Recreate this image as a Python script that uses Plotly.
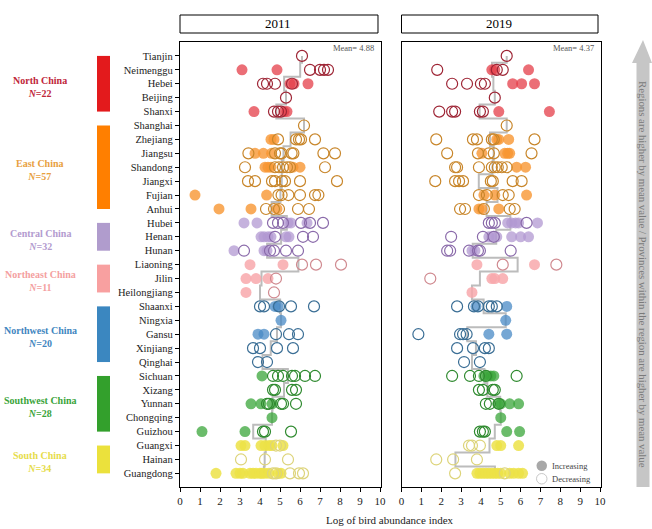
import plotly.graph_objects as go

W, H = 652, 529

provinces = ["Tianjin", "Neimenggu", "Hebei", "Beijing", "Shanxi",
             "Shanghai", "Zhejiang", "Jiangsu", "Shandong", "Jiangxi", "Fujian", "Anhui",
             "Hubei", "Henan", "Hunan",
             "Liaoning", "Jilin", "Heilongjiang",
             "Shaanxi", "Ningxia", "Gansu", "Xinjiang", "Qinghai",
             "Sichuan", "Xizang", "Yunnan", "Chongqing", "Guizhou",
             "Guangxi", "Hainan", "Guangdong"]
region_names = ["North China", "East China", "Central China", "Northeast China",
                "Northwest China", "Southwest China", "South China"]
region_n = [22, 57, 32, 11, 20, 28, 34]
region_sizes = [5, 7, 3, 3, 5, 5, 3]
years = ["2011", "2019"]
overall_means = ["4.88", "4.37"]
x_ticks = list(range(0, 11))

# values of cities per province (filled = increasing, open = decreasing)
inc_2011 = [[], [3.1, 4.85], [5.5, 5.7, 6.4], [], [3.7, 5.2, 5.35],
            [], [4.55, 4.7], [3.75, 4.17, 4.58], [4.25, 4.4, 4.55, 5.65, 6.0], [], [0.75, 4.33], [1.95, 3.55, 4.85],
            [3.2, 3.85, 5.4, 5.55, 6.35], [4.05, 4.2, 4.4, 4.55, 5.3, 5.45], [2.7, 4.2, 4.35],
            [3.5, 5.15], [3.3, 3.8, 4.4], [3.3],
            [4.75, 4.9], [5.05], [3.9, 4.2], [], [],
            [4.1], [], [3.55, 4.05, 4.6], [4.6], [1.1, 3.25],
            [3.05, 3.25, 4.05, 4.25, 4.45, 4.6, 5.15], [],
            [1.8, 2.8, 3.0, 3.15, 3.5, 3.65, 3.8, 4.0, 4.1, 4.25, 4.45, 4.9, 5.05]]
dec_2011 = [[6.1], [6.5, 7.0, 7.2, 7.4], [4.15, 4.35, 4.75, 5.6], [5.3], [4.7, 4.9, 5.05],
            [6.2], [4.9, 5.8, 5.95, 6.05, 6.75], [3.42, 4.75, 5.0, 5.08, 5.58, 5.67, 7.17, 7.75],
            [3.25, 4.75, 4.95, 5.15, 5.35, 5.5, 7.25], [3.4, 3.75, 4.6, 4.75, 5.1, 5.25, 6.0, 7.85],
            [4.92, 5.08, 5.42, 6.0, 6.75, 6.92], [4.3, 4.7, 4.95, 5.9, 6.45],
            [4.65, 4.9, 5.15, 6.05, 6.5, 7.15], [4.75, 6.15, 6.65], [3.2, 4.5, 4.7, 5.3, 5.9],
            [6.1, 6.8, 8.05], [4.8], [4.7],
            [4.0, 4.2, 4.95, 5.55, 6.7], [], [4.8, 5.45, 5.9], [3.65, 4.0, 4.85, 5.65], [3.9, 4.35],
            [4.65, 4.9, 5.15, 5.6, 5.75, 6.25, 6.75], [4.65, 4.75, 5.6, 5.8],
            [4.35, 4.45, 5.05, 5.15, 5.8], [], [4.15, 4.25, 5.55],
            [4.8, 5.0], [3.05, 4.25, 5.4], [4.65, 4.8, 5.5, 5.95, 6.15]]
inc_2019 = [[], [4.55, 4.7, 6.4], [5.6, 6.05, 6.7], [], [4.9, 7.45],
            [], [4.8, 4.9, 5.4], [4.05, 5.2, 5.35, 5.45], [5.8, 6.25], [], [4.15, 4.7, 6.3], [3.9, 4.05, 4.9],
            [5.35, 5.55, 5.75, 5.9, 6.85], [4.4, 4.55, 4.8, 5.55, 6.0, 6.4], [3.55, 3.7],
            [3.8, 6.7], [4.55, 4.7, 5.1], [3.55],
            [3.75, 5.3], [5.25], [4.4, 5.3], [], [],
            [4.15, 4.35, 4.5, 4.65], [], [4.85, 5.0, 5.45, 5.9], [5.0], [5.3, 5.95],
            [4.8, 5.0, 5.9], [],
            [3.8, 3.95, 4.1, 4.25, 4.4, 4.55, 4.7, 4.85, 5.0, 5.45, 5.65, 5.9, 6.1]]
dec_2019 = [[5.3], [1.8, 4.8, 5.1], [2.55, 3.3, 4.0, 4.2], [4.7], [1.9, 2.55, 2.7, 3.95, 4.1],
            [5.3], [1.75, 3.6, 3.8, 4.55, 4.65, 6.7], [2.3, 3.85, 4.4, 4.65, 6.55],
            [2.7, 2.8, 3.9, 4.55, 4.7, 4.85, 5.05, 5.3], [1.7, 2.7, 2.9, 3.1, 4.5, 4.6, 5.6, 6.05],
            [3.9, 4.3, 5.1, 5.4], [2.95, 3.2, 4.15, 5.45, 5.7],
            [4.4, 4.55, 4.7, 6.3], [2.5, 4.1, 4.65], [2.3, 2.45, 3.4, 3.85, 3.95, 5.5],
            [5.1, 7.8], [1.45], [],
            [2.8, 3.65, 3.85, 4.4, 4.55, 4.8], [], [0.85, 2.95, 3.1, 3.28], [2.8, 3.6, 4.2, 4.4], [3.15, 3.95],
            [2.55, 3.45, 3.9, 4.25, 5.8], [3.9, 4.1, 4.6, 4.7], [4.25, 4.45, 4.9], [], [3.95, 4.1, 4.2],
            [3.4, 3.55, 3.95], [1.75, 2.6, 3.8], [2.7, 5.2]]

# styles
bar_colors = ["#e31a1c", "#ff7f00", "#b09ccd", "#f8a0a0", "#3b87c0", "#33a02c", "#ebe13c"]
fill_colors = ["rgba(228,62,72,0.75)", "rgba(247,150,50,0.8)", "rgba(178,152,210,0.75)",
               "rgba(248,168,172,0.85)", "rgba(72,138,198,0.75)", "rgba(58,165,58,0.75)",
               "rgba(236,226,70,0.85)"]
open_colors = ["#9e2535", "#c8862a", "#8a6aaa", "#d08a90", "#3a6e95", "#2f8a2f", "#ddd47a"]
label_colors = ["#c0263a", "#e8a040", "#b39bcf", "#f4a0a0", "#3f86c0", "#3aa43a", "#e6dc4a"]
SERIF = "Liberation Serif, Times New Roman, serif"

region_of = []
for r, s in enumerate(region_sizes):
    region_of += [r] * s

def px_x(x):
    return x / W

def px_y(y):
    return 1 - y / H

fig = go.Figure()
panels = [(inc_2011, dec_2011, "x", "y"), (inc_2019, dec_2019, "x2", "y2")]
for inc, dec, xa, ya in panels:
    means = [sum(a + b) / len(a + b) for a, b in zip(inc, dec)]
    fig.add_trace(go.Scatter(x=means, y=list(range(len(provinces))), mode="lines",
                             line=dict(color="#bcbcbc", width=2, shape="vhv"),
                             xaxis=xa, yaxis=ya, showlegend=False, hoverinfo="skip"))
    for r in range(len(region_names)):
        idx = [i for i in range(len(provinces)) if region_of[i] == r]
        fx, fy, ox, oy = [], [], [], []
        for i in idx:
            fx += inc[i]; fy += [i] * len(inc[i])
            ox += dec[i]; oy += [i] * len(dec[i])
        fig.add_trace(go.Scatter(x=fx, y=fy, mode="markers", xaxis=xa, yaxis=ya, showlegend=False,
                                 marker=dict(size=11, color=fill_colors[r], line=dict(width=0))))
        fig.add_trace(go.Scatter(x=ox, y=oy, mode="markers", xaxis=xa, yaxis=ya, showlegend=False,
                                 marker=dict(size=11, color="rgba(255,255,255,0)",
                                             line=dict(width=1.2, color=open_colors[r]))))

n = len(provinces)
yrange = [n - 0.02, -1]
common_x = dict(range=[0, 10.05], tickvals=x_ticks, ticktext=[str(t) for t in x_ticks],
                showgrid=False, zeroline=False, showline=True, linecolor="black", linewidth=1.3,
                mirror=True, ticks="outside", ticklen=4, tickcolor="black",
                tickfont=dict(family=SERIF, size=11, color="#222"))
fig.update_layout(
    width=W, height=H, margin=dict(l=0, r=0, t=0, b=0),
    paper_bgcolor="white", plot_bgcolor="white", template="none", showlegend=False,
    xaxis=dict(domain=[px_x(180), px_x(381)], anchor="y", **common_x),
    xaxis2=dict(domain=[px_x(401.5), px_x(601)], anchor="y2", **common_x),
    yaxis=dict(domain=[px_y(487), px_y(42)], range=yrange, tickvals=list(range(n)), ticktext=provinces,
               showgrid=False, zeroline=False, showline=True, linecolor="black", linewidth=1.3, mirror=True,
               ticks="outside", ticklen=4, tickcolor="black",
               tickfont=dict(family=SERIF, size=10.5, color="#222")),
    yaxis2=dict(domain=[px_y(487), px_y(42)], range=yrange, anchor="x2", matches="y",
                showticklabels=False, ticks="", showgrid=False, zeroline=False,
                showline=True, linecolor="black", linewidth=1.3, mirror=True),
)

shapes = []
annotations = []
# year header boxes and mean labels
for k, xa in enumerate(["x", "x2"]):
    shapes.append(dict(type="rect", xref=f"{xa} domain", yref="paper", x0=0, x1=0.985,
                       y0=px_y(33), y1=px_y(15), line=dict(color="black", width=1), fillcolor="white"))
    annotations.append(dict(text=years[k], xref=f"{xa} domain", yref="paper", x=0.49, y=px_y(24),
                            xanchor="center", yanchor="middle",
                            showarrow=False, font=dict(family=SERIF, size=13, color="black")))
    annotations.append(dict(text=f"Mean= {overall_means[k]}", xref=f"{xa} domain", yref="paper",
                            x=0.975, y=px_y(48), xanchor="right", yanchor="middle", showarrow=False,
                            font=dict(family=SERIF, size=8.5, color="#555")))

# region colour bars and labels
start = 0
for r, s in enumerate(region_sizes):
    first, last = start, start + s - 1
    shapes.append(dict(type="rect", xref="paper", yref="y", x0=px_x(97), x1=px_x(110),
                       y0=first, y1=last, fillcolor=bar_colors[r], line=dict(width=0)))
    annotations.append(dict(text=f"<b>{region_names[r]}</b><br><b><i>N</i>={region_n[r]}</b>",
                            xref="paper", yref="y", x=px_x(40), y=(first + last) / 2 + 0.2,
                            xanchor="center", yanchor="middle", showarrow=False,
                            font=dict(family=SERIF, size=10, color=label_colors[r])))
    start += s

# legend
shapes.append(dict(type="circle", xref="paper", yref="paper",
                   x0=px_x(536.5), x1=px_x(547), y0=px_y(471), y1=px_y(460.5),
                   fillcolor="#a8a8a8", line=dict(width=0)))
shapes.append(dict(type="circle", xref="paper", yref="paper",
                   x0=px_x(536.5), x1=px_x(547), y0=px_y(484), y1=px_y(473.5),
                   fillcolor="white", line=dict(width=1, color="#c8c8c8")))
annotations.append(dict(text="Increasing", xref="paper", yref="paper", x=px_x(550), y=px_y(466),
                        xanchor="left", yanchor="middle", showarrow=False,
                        font=dict(family=SERIF, size=8.5, color="#444")))
annotations.append(dict(text="Decreasing", xref="paper", yref="paper", x=px_x(550), y=px_y(479),
                        xanchor="left", yanchor="middle", showarrow=False,
                        font=dict(family=SERIF, size=8.5, color="#444")))

# right arrow
path = (f"M {px_x(636.5)} {px_y(487)} L {px_x(649.5)} {px_y(487)} L {px_x(649.5)} {px_y(63)} "
        f"L {px_x(652)} {px_y(63)} L {px_x(643)} {px_y(40)} L {px_x(632)} {px_y(63)} "
        f"L {px_x(636.5)} {px_y(63)} Z")
shapes.append(dict(type="path", xref="paper", yref="paper", path=path,
                   fillcolor="#c6c6c6", line=dict(width=0)))
annotations.append(dict(text="Regions are higher by mean value / Provinces within the region are higher by mean value",
                        xref="paper", yref="paper", x=px_x(643), y=px_y(274), textangle=90,
                        xanchor="center", yanchor="middle",
                        showarrow=False, font=dict(family=SERIF, size=10.8, color="#7a7a7a")))

# x axis title
annotations.append(dict(text="Log of bird abundance index", xref="paper", yref="paper",
                        x=px_x(390), y=px_y(520), xanchor="center", yanchor="middle", showarrow=False,
                        font=dict(family=SERIF, size=11, color="#222")))

fig.update_layout(shapes=shapes, annotations=annotations)
fig.write_html("out.html", config={"displayModeBar": False},
               post_script="document.body.style.margin='0';")
